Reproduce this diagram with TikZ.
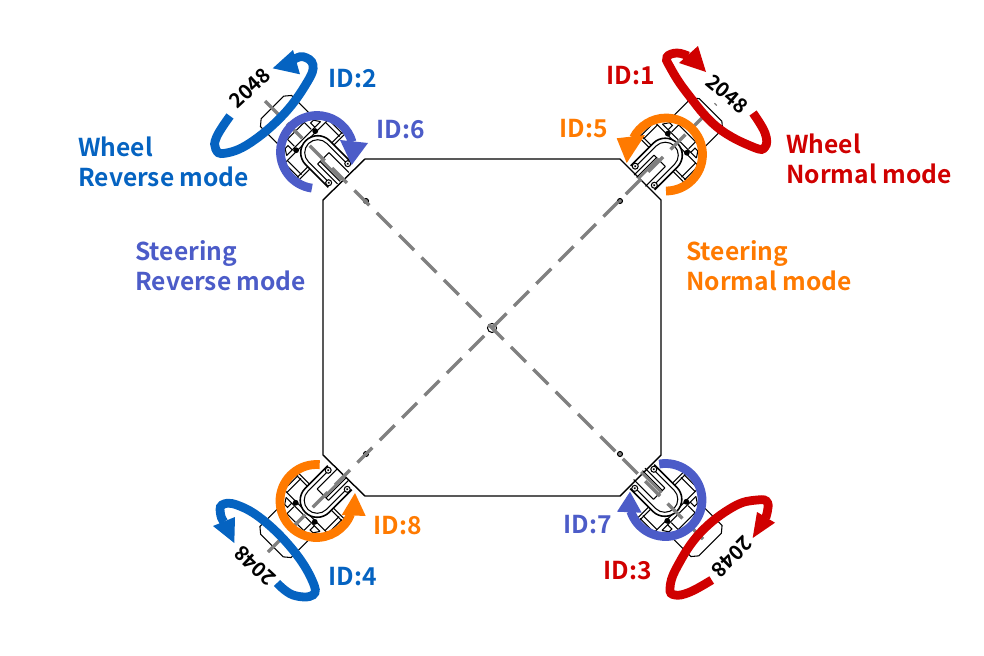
\documentclass[tikz,border=0pt]{standalone}
\usepackage{fontspec}
\setmainfont{Noto Sans CJK JP}[BoldFont={* Bold}]
\definecolor{wheelred}{RGB}{208,0,0}
\definecolor{wheelblue}{RGB}{5,99,193}
\definecolor{steerpurple}{RGB}{76,92,200}
\definecolor{steerorange}{RGB}{255,122,0}
\definecolor{axisgray}{RGB}{128,128,128}
\tikzset{
  lbl/.style={font=\fontsize{14}{17}\selectfont\bfseries, anchor=west, align=left, inner sep=0pt},
  tick/.style={font=\fontsize{11.5}{14}\selectfont\bfseries, inner sep=0pt, text=black},
  part/.style={line width=0.6pt, black},
  turn/.style={line width=5pt, line cap=butt},
  roll/.style={line width=5pt, line cap=butt, smooth},
  axisline/.style={axisgray, line width=1.9pt, dash pattern=on 12pt off 6pt}
}
% one steering module, local x points away from the body
\newcommand{\drawmodule}[3]{
  \begin{scope}[shift={(#1,#2)},rotate=#3]
    % frame behind the fork
    \draw[part] (-7,-33) -- (-7,33);
    \draw[part] (-4,-33) -- (-4,33);
    \draw[part] (15,-31) -- (15,31);
    \draw[part] (-5,-31) -- (15,-31);
    \draw[part] (-5,31) -- (15,31);
    \draw[part] (-5,-27) -- (15,-27);
    \draw[part] (-5,27) -- (15,27);
    \draw[part] (19,-24) -- (19,24);
    \draw[part] (20,-12) -- (30,-12) -- (30,12) -- (20,12);
    \draw[part] (19,-24) -- (25,-20) -- (25,-16) -- (19,-16);
    \draw[part] (19,24) -- (25,20) -- (25,16) -- (19,16);
    % wheel
    \draw[part] (25,-22) -- (58,-22) -- (63,-16) -- (63,16) -- (58,22) -- (25,22);
    % fork
    \fill[white] (-33,-17) -- (-1,-17) arc[start angle=-90,end angle=90,radius=17] -- (-33,17) -- cycle;
    \draw[part, line width=0.9pt] (-33,-17) -- (-1,-17) arc[start angle=-90,end angle=90,radius=17] -- (-33,17);
    \draw[part] (-30,-13) -- (-1,-13) arc[start angle=-90,end angle=90,radius=13] -- (-30,13);
    \draw[part] (-9,-8) -- (-9,8);
    \draw[part] (-37,-8) -- (-9,-8);
    \draw[part] (-37,8) -- (-9,8);
    \draw[part] (-37,-4.5) -- (-9,-4.5);
    \draw[axisgray, line width=1.5pt] (-37,-2.5) -- (-8,-2.5);
    \draw[part, fill=white] (-30,-13.5) circle (3);
    \draw[part, fill=white] (-30,13.5) circle (3);
    \fill (-30,-13.5) circle (1.2);
    \fill (-30,13.5) circle (1.2);
    \fill (16,-13.5) circle (2.9);
    \fill (16,13.5) circle (2.9);
  \end{scope}
}
\begin{document}
\begin{tikzpicture}[x=0.02cm,y=0.02cm,yscale=-1]
\useasboundingbox (0,0) rectangle (984,656);

%---------------------------------------
% Body
%---------------------------------------
\coordinate (hub) at (492,328);
\draw[line width=0.8pt] (365,159) -- (620,159) -- (661,200) -- (661,455)
  -- (620,496) -- (365,496) -- (323,455) -- (323,200) -- cycle;
\draw[part] (hub) circle (4.5);
\foreach \hx/\hy in {366/201,620/201,366/454,620/454}
  \draw[part, fill=axisgray] (\hx,\hy) circle (2.5);

%---------------------------------------
% Modules
%---------------------------------------
\drawmodule{317}{152}{225}
\drawmodule{666}{154.5}{-45}
\drawmodule{316.5}{501}{135}
\drawmodule{665.5}{500}{45}

% Diagonals
\coordinate (axisTL) at (265,101);
\coordinate (axisBR) at (703,539);
\coordinate (axisTR) at (716,104);
\coordinate (axisBL) at (268,552);
\draw[axisline] (axisTL) -- (axisBR);
\draw[axisline] (axisBL) -- (axisTR);

%---------------------------------------
% Steering arrows
%---------------------------------------
\draw[turn, steerpurple] (317,152) ++(98:36.5) arc[start angle=98,end angle=344,radius=36.5];
\fill[steerpurple] (351.7,165) -- (340,140) -- (368,143) -- cycle;

\draw[turn, steerorange] (666,154.5) ++(90:36.5) arc[start angle=90,end angle=-153,radius=36.5];
\fill[steerorange] (626.7,163) -- (616.7,138.3) -- (645,135) -- cycle;

\draw[turn, steerorange] (316.5,501) ++(-85:36.5) arc[start angle=-85,end angle=-339,radius=36.5];
\fill[steerorange] (355,493) -- (341.7,515) -- (365.7,516) -- cycle;

\draw[turn, steerpurple] (665.5,500) ++(-100:36.5) arc[start angle=-100,end angle=162,radius=36.5];
\fill[steerpurple] (630,491.7) -- (617,511.7) -- (641.7,512.7) -- cycle;

%---------------------------------------
% Wheel arrows
%---------------------------------------
\draw[roll, wheelblue] plot[smooth, tension=0.7] coordinates {(230,116) (216.7,136.7) (215.7,149) (225,153.3) (250,143) (283,115) (306.7,83) (313,65) (303,56.7) (293,60)};
\fill[wheelblue] (272.7,68.3) -- (293,50) -- (300,74.3) -- cycle;

\draw[roll, wheelred] plot[smooth, tension=0.7] coordinates {(753,113) (765,133) (765,147) (753,147) (717,127) (687,93) (670,67) (667,57) (677,53) (688,56)};
\fill[wheelred] (706,72) -- (679,63) -- (698,46) -- cycle;

\draw[roll, wheelblue] plot[smooth, tension=0.7] coordinates {(277,583) (293,595) (313,595) (312,580) (293,550) (263,520) (237,505) (222,505) (220.7,515) (224,522)};
\fill[wheelblue] (234.3,543) -- (213,526) -- (235,517) -- cycle;

\draw[roll, wheelred] plot[smooth, tension=0.7] coordinates {(711.7,580) (690,592) (675,595) (670,588) (677,567) (700,533) (733,507) (757,500) (767.7,503) (765.7,518)};
\fill[wheelred] (752.7,538) -- (775,522.7) -- (757,512) -- cycle;

%---------------------------------------
% Labels
%---------------------------------------
\node[tick, rotate=43] (countTL) at (250,88) {2048};
\node[tick, rotate=-40] (countTR) at (727,94) {2048};
\node[tick, rotate=137] (countBL) at (255,566) {2048};
\node[tick, rotate=225] (countBR) at (732,557) {2048};

\node[lbl, text=wheelblue] (idtwo) at (328,79) {ID:2};
\node[lbl, text=steerpurple] (idsix) at (376,130) {ID:6};
\node[lbl, text=wheelred] (idone) at (606,76) {ID:1};
\node[lbl, text=steerorange] (idfive) at (559,129) {ID:5};
\node[lbl, text=steerorange] (ideight) at (373,526) {ID:8};
\node[lbl, text=wheelblue] (idfour) at (328,577) {ID:4};
\node[lbl, text=steerpurple] (idseven) at (563,525) {ID:7};
\node[lbl, text=wheelred] (idthree) at (603,571) {ID:3};

\node[lbl, text=wheelblue] (wheelrev) at (78,162) {Wheel\\Reverse mode};
\node[lbl, text=wheelred] (wheelnorm) at (786,159) {Wheel\\Normal mode};
\node[lbl, text=steerpurple] (steerrev) at (135,266) {Steering\\Reverse mode};
\node[lbl, text=steerorange] (steernorm) at (686,265.5) {Steering\\Normal mode};

\end{tikzpicture}
\end{document}
